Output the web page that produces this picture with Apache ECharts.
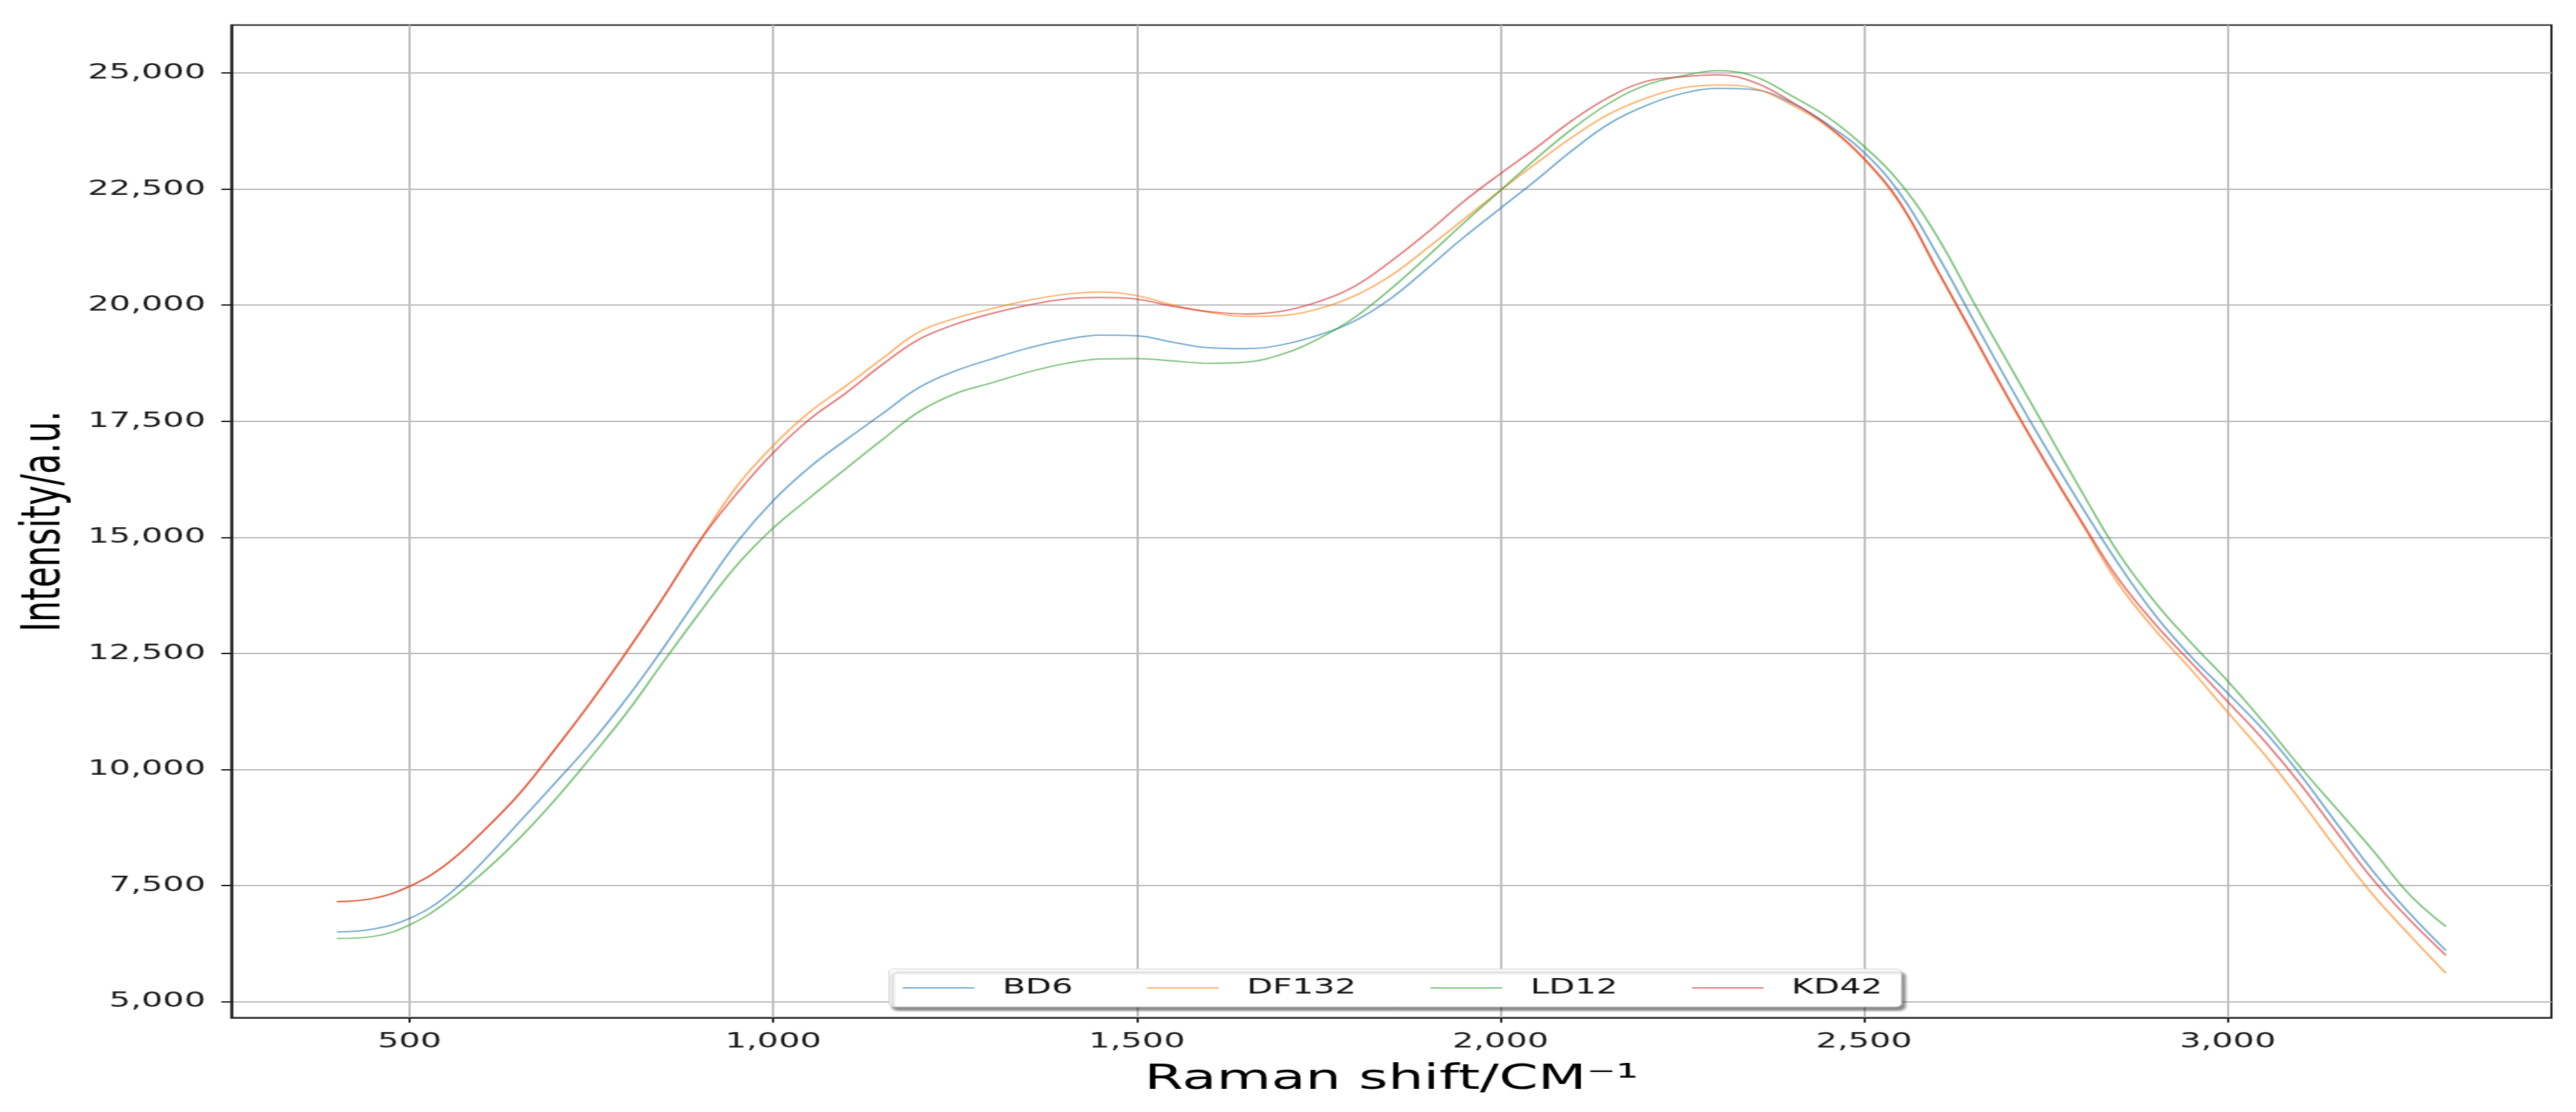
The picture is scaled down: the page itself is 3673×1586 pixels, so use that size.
<!DOCTYPE html>
<html>
<head>
<meta charset="utf-8">
<script src="https://cdn.jsdelivr.net/npm/echarts@6/dist/echarts.min.js"></script>
<style>
  html, body { margin: 0; padding: 0; background: #fff; overflow: hidden; }
  /* the reference figure is stretched sideways, so draw narrow and widen it */
  #chart { width: 2296px; height: 1586px; transform: scaleX(1.59974); transform-origin: 0 0; }
</style>
</head>
<body>
<div id="chart"></div>
<script>
// Raman shift, every 50 from 400 to 3300
const shifts = [400, 450, 500, 550, 600, 650, 700, 750, 800, 850,
   900, 950, 1000, 1050, 1100, 1150, 1200, 1250, 1300, 1350,
   1400, 1450, 1500, 1550, 1600, 1650, 1700, 1750, 1800, 1850,
   1900, 1950, 2000, 2050, 2100, 2150, 2200, 2250, 2300, 2350,
   2400, 2450, 2500, 2550, 2600, 2650, 2700, 2750, 2800, 2850,
   2900, 2950, 3000, 3050, 3100, 3150, 3200, 3250, 3300];
const bd6 = [6495, 6560, 6790, 7260, 8000, 8850, 9705, 10580, 11560, 12640,
   13780, 14890, 15790, 16510, 17100, 17660, 18221, 18582, 18840, 19072,
   19252, 19355, 19340, 19200, 19082, 19062, 19149, 19355, 19665, 20154,
   20799, 21469, 22087, 22706, 23350, 23917, 24300, 24560, 24670, 24640,
   24357, 23894, 23290, 22390, 21104, 19689, 18274, 16924, 15638, 14416,
   13323, 12422, 11640, 10830, 9880, 8830, 7800, 6900, 6096];
const df132 = [7151, 7220, 7480, 7950, 8650, 9456, 10435, 11465, 12567, 13730,
   14946, 16100, 16975, 17697, 18263, 18850, 19420, 19716, 19922, 20103,
   20232, 20283, 20206, 20000, 19845, 19757, 19778, 19922, 20206, 20644,
   21237, 21855, 22474, 23067, 23634, 24124, 24459, 24680, 24743, 24666,
   24318, 23843, 23135, 22171, 20756, 19342, 17927, 16577, 15278, 13992,
   13002, 12140, 11230, 10330, 9330, 8280, 7290, 6430, 5607];
const ld12 = [6356, 6400, 6650, 7130, 7760, 8500, 9345, 10275, 11250, 12340,
   13400, 14400, 15200, 15850, 16480, 17100, 17700, 18092, 18324, 18556,
   18737, 18840, 18850, 18799, 18747, 18773, 18943, 19278, 19742, 20361,
   21057, 21778, 22474, 23170, 23814, 24356, 24742, 24940, 25051, 24923,
   24511, 24050, 23420, 22620, 21489, 20075, 18700, 17330, 15960, 14650,
   13600, 12720, 11900, 11000, 10044, 9146, 8246, 7300, 6610];
const kd42 = [7151, 7220, 7480, 7950, 8650, 9456, 10435, 11465, 12567, 13730,
   14946, 15945, 16821, 17542, 18108, 18720, 19260, 19587, 19819, 20000,
   20129, 20165, 20129, 19974, 19861, 19809, 19871, 20077, 20412, 20953,
   21572, 22242, 22835, 23402, 23995, 24485, 24820, 24920, 24961, 24794,
   24383, 23868, 23161, 22196, 20782, 19367, 17953, 16603, 15316, 14095,
   13130, 12294, 11460, 10620, 9680, 8640, 7620, 6760, 5993];
const xTicks = [500, 1000, 1500, 2000, 2500, 3000];
const yTicks = [5000, 7500, 10000, 12500, 15000, 17500, 20000, 22500, 25000];

const names = ['BD6', 'DF132', 'LD12', 'KD42'];
const values = [bd6, df132, ld12, kd42];
const colors = ['rgba(31,119,180,0.6)', 'rgba(255,127,14,0.6)', 'rgba(44,160,44,0.6)', 'rgba(214,39,40,0.6)'];
const font = 'DejaVu Sans';
const fmt = (v) => v.toLocaleString('en-US');

const chart = echarts.init(document.getElementById('chart'));

const series = names.map((name, i) => ({
   name,
   type: 'line',
   smooth: 0.4,
   showSymbol: false,
   symbol: 'none',
   data: shifts.map((x, j) => [x, values[i][j]]),
   lineStyle: { width: 2, color: colors[i] },
   itemStyle: { color: colors[i] }
}));

const option = {
   animation: false,
   backgroundColor: '#fff',
   grid: {
      left: 206.25,
      top: 35.7,
      width: 2067.8,
      height: 1415.8,
      show: true,
      borderColor: '#222',
      borderWidth: 2,
      backgroundColor: 'transparent',
      outerBoundsMode: 'none'
   },
   legend: {
      data: names,
      left: 792.5,
      top: 1382,
      orient: 'horizontal',
      // short line plus an empty stretch before the label
      icon: 'path://M0,0L64,0L64,2L0,2Z M84,0L84,2',
      itemWidth: 84,
      itemHeight: 2,
      itemGap: 66,
      itemStyle: { borderWidth: 0 },
      padding: [12, 17, 12, 12],
      backgroundColor: '#fff',
      borderColor: '#cfcfcf',
      borderWidth: 1,
      borderRadius: 5,
      shadowColor: 'rgba(0,0,0,0.45)',
      shadowOffsetX: 3,
      shadowOffsetY: 5,
      shadowBlur: 3,
      textStyle: { fontFamily: font, fontSize: 30, color: '#111' }
   },
   xAxis: {
      type: 'value',
      min: 255,
      max: 3445,
      name: 'Raman shift/CM⁻¹',
      nameLocation: 'middle',
      nameGap: 64,
      nameTextStyle: { fontFamily: font, fontSize: 50, color: '#000' },
      axisLine: { show: true, lineStyle: { color: '#222', width: 2 } },
      axisTick: { show: true, customValues: xTicks, length: 7, lineStyle: { color: '#222', width: 2 } },
      axisLabel: { customValues: xTicks, formatter: fmt, margin: 20, fontFamily: font, fontSize: 30, color: '#1a1a1a' },
      splitLine: { show: true, lineStyle: { color: '#bdbdbd', width: 2 } }
   },
   yAxis: {
      type: 'value',
      min: 4650,
      max: 26035,
      name: 'Intensity/a.u.',
      nameLocation: 'middle',
      nameRotate: 90,
      nameGap: 142,
      nameTextStyle: { fontFamily: font, fontSize: 48, color: '#000' },
      axisLine: { show: true, lineStyle: { color: '#222', width: 2 } },
      axisTick: { show: true, customValues: yTicks, length: 9, lineStyle: { color: '#222', width: 2 } },
      axisLabel: { customValues: yTicks, formatter: fmt, margin: 23, fontFamily: font, fontSize: 30, color: '#1a1a1a' },
      splitLine: { show: true, lineStyle: { color: '#bdbdbd', width: 2 } }
   },
   series
};

chart.setOption(option);
</script>
</body>
</html>
